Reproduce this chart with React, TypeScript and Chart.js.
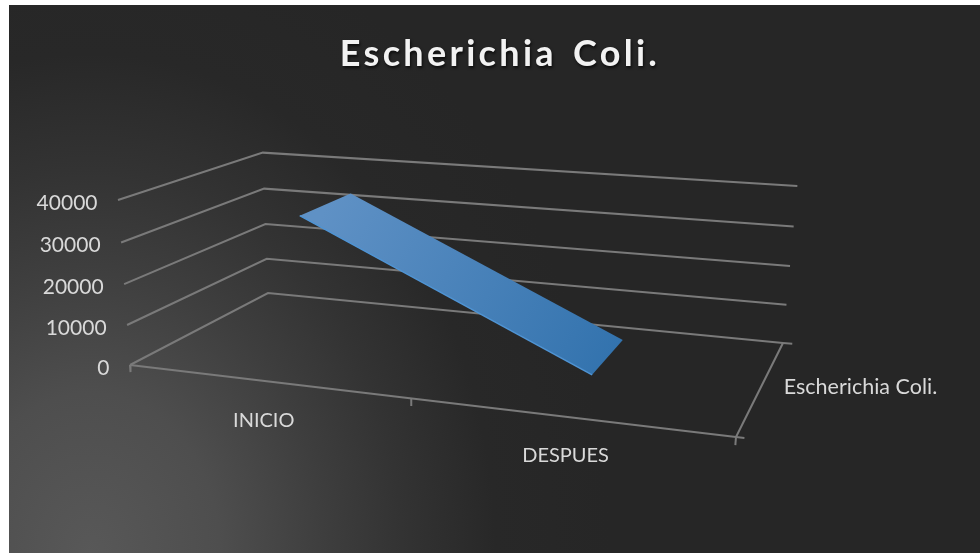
import React, { useEffect, useRef } from "react";
import { Chart, registerables } from "chart.js";

Chart.register(...registerables);

const chartTitle = "Escherichia Coli.";
const categories = ["INICIO", "DESPUES"];
const seriesName = "Escherichia Coli.";
const seriesValues = [35000, 3400];
const valueTicks = [0, 10000, 20000, 30000, 40000];

const VALUE_MAX = 40000;
const WIDTH = 980;
const HEIGHT = 553;
const FONT = "Lato, Carlito, sans-serif";

// Projective camera for the 3D box: u runs along the categories, w into the
// depth of the box and t up the value axis, each from 0 to 1.
const camera = {
  o: [130, 365],
  u: [736, 437],
  w: [268, 293],
  t: [118, 200],
  hu: 0.866,
  hw: 1.189,
  ht: 0.96,
};

function project(u: number, w: number, t: number) {
  const { o, u: pu, w: pw, t: pt, hu, hw, ht } = camera;
  const d = 1 + u * (hu - 1) + w * (hw - 1) + t * (ht - 1);
  const at = (i: number) =>
    (o[i] + u * (hu * pu[i] - o[i]) + w * (hw * pw[i] - o[i]) + t * (ht * pt[i] - o[i])) / d;
  return { x: at(0), y: at(1) };
}

const toT = (value: number) => value / VALUE_MAX;
const categoryU = (i: number) => (i + 0.5) / categories.length;

// The ribbon occupies this slice of the depth axis.
const RIBBON_FRONT = 0.28;
const RIBBON_BACK = 0.69;

const ribbonFront = seriesValues.map((v, i) => project(categoryU(i), RIBBON_FRONT, toT(v)));
const ribbonBack = seriesValues.map((v, i) => project(categoryU(i), RIBBON_BACK, toT(v)));

const GRID = "#7a7a7a";

function lineSet(data: { x: number; y: number }[], color = GRID, width = 2) {
  return { data, borderColor: color, borderWidth: width, pointRadius: 0, fill: false, tension: 0 };
}

const gridLines = valueTicks.map((v) =>
  lineSet([project(0, 0, toT(v)), project(0, 1, toT(v)), project(1, 1, toT(v))])
);

const axisLines = [
  lineSet([project(0, 0, 0), project(1, 0, 0)]),
  lineSet([project(1, 0, 0), project(1, 1, 0)]),
  ...[0, 0.5, 1].map((u) => lineSet([project(u, 0, 0), project(u, 0, -0.045)])),
  lineSet([project(1, 0, 0), project(1.012, 0, 0)]),
  lineSet([project(1, 1, 0), project(1.016, 1, 0)]),
];

const textPlugin = {
  id: "boxText",
  beforeDraw(chart: Chart) {
    const ctx = chart.ctx;
    ctx.save();
    ctx.beginPath();
    ctx.rect(9, 5, WIDTH - 9, HEIGHT - 5);
    ctx.clip();
    // Elliptical glow rising from the lower left of the panel.
    ctx.translate(90, 553);
    ctx.scale(520, 640);
    const glow = ctx.createRadialGradient(0, 0, 0, 0, 0, 1);
    glow.addColorStop(0, "#585858");
    glow.addColorStop(0.25, "#4e4e4e");
    glow.addColorStop(0.45, "#3e3e3e");
    glow.addColorStop(0.6, "#333333");
    glow.addColorStop(0.78, "#282828");
    glow.addColorStop(1, "#262626");
    ctx.fillStyle = glow;
    ctx.fillRect(-1, -1, 3, 2);
    ctx.restore();
  },
  afterDraw(chart: Chart) {
    const ctx = chart.ctx;
    ctx.save();
    ctx.textBaseline = "middle";
    ctx.fillStyle = "#d9d9d9";

    ctx.font = `21px ${FONT}`;
    ctx.textAlign = "right";
    valueTicks.forEach((v) => {
      const p = project(0, 0, toT(v));
      ctx.fillText(String(v), p.x - 20.5, p.y + 3);
    });

    ctx.font = `20px ${FONT}`;
    ctx.textAlign = "center";
    categories.forEach((c, i) => {
      const p = project(categoryU(i), 0, 0);
      ctx.fillText(c, p.x - 2, p.y + 39);
    });

    ctx.font = `21.5px ${FONT}`;
    ctx.textAlign = "left";
    const depth = project(1, 0.5, 0);
    ctx.fillText(seriesName, depth.x + 22, depth.y + 2);

    ctx.textAlign = "center";
    ctx.font = `bold 36px ${FONT}`;
    (ctx as any).letterSpacing = "3.3px";
    (ctx as any).wordSpacing = "4px";
    ctx.fillStyle = "#f2f2f2";
    ctx.shadowColor = "rgba(0,0,0,0.7)";
    ctx.shadowBlur = 3;
    ctx.shadowOffsetX = 1;
    ctx.shadowOffsetY = 2;
    ctx.fillText(chartTitle, 500, 54);
    ctx.restore();
  },
};

export default function App() {
  const ref = useRef<HTMLCanvasElement>(null);

  useEffect(() => {
    const canvas = ref.current!;
    const ribbonFill = (ctx: any) => {
      const g = ctx.chart.ctx.createLinearGradient(330, 200, 610, 360);
      g.addColorStop(0, "#5f91c5");
      g.addColorStop(1, "#3373ae");
      return g;
    };
    const chart = new Chart(canvas, {
      type: "scatter",
      data: {
        datasets: [
          lineSet(ribbonFront, "#4f94d4", 1.5),
          {
            data: [...ribbonFront, ...[...ribbonBack].reverse(), ribbonFront[0]],
            showLine: true,
            pointRadius: 0,
            borderWidth: 0,
            borderColor: "rgba(0,0,0,0)",
            backgroundColor: ribbonFill,
            fill: "shape",
            tension: 0,
          },
          ...axisLines,
          ...gridLines,
        ].map((d) => ({ showLine: true, ...d })) as any,
      },
      options: {
        responsive: false,
        animation: false,
        events: [],
        layout: { padding: 0 },
        plugins: { legend: { display: false }, title: { display: false }, tooltip: { enabled: false } },
        scales: {
          x: { type: "linear", display: false, min: 0, max: WIDTH },
          y: { type: "linear", display: false, min: 0, max: HEIGHT, reverse: true },
        },
      },
      plugins: [textPlugin],
    });
    return () => chart.destroy();
  }, []);

  return (
    <canvas
      ref={ref}
      width={WIDTH}
      height={HEIGHT}
      style={{ position: "fixed", left: 0, top: 0, width: WIDTH, height: HEIGHT, display: "block" }}
    />
  );
}
